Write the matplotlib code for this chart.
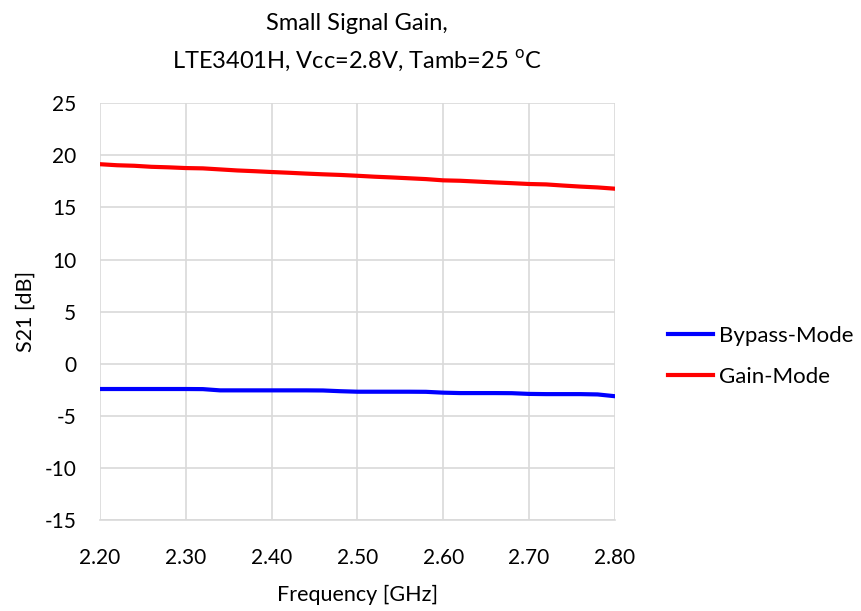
import matplotlib
matplotlib.use("Agg")
import matplotlib.pyplot as plt

FONT = ["Lato", "DejaVu Sans"]
plt.rcParams["font.family"] = FONT
plt.rcParams["axes.unicode_minus"] = False

freq_ghz = [2.20, 2.22, 2.24, 2.26, 2.28, 2.30, 2.32, 2.34, 2.36, 2.38,
            2.40, 2.42, 2.44, 2.46, 2.48, 2.50, 2.52, 2.54, 2.56, 2.58,
            2.60, 2.62, 2.64, 2.66, 2.68, 2.70, 2.72, 2.74, 2.76, 2.78, 2.80]

bypass_db = [-2.43, -2.43, -2.43, -2.43, -2.43, -2.43, -2.44, -2.56, -2.56, -2.56,
             -2.56, -2.56, -2.56, -2.57, -2.64, -2.69, -2.69, -2.69, -2.69, -2.70,
             -2.78, -2.82, -2.82, -2.82, -2.83, -2.90, -2.92, -2.92, -2.92, -2.95, -3.12]

gain_db = [19.15, 19.05, 19.00, 18.90, 18.85, 18.78, 18.75, 18.65, 18.55, 18.48,
           18.40, 18.33, 18.25, 18.18, 18.12, 18.04, 17.95, 17.88, 17.80, 17.72,
           17.60, 17.56, 17.48, 17.40, 17.33, 17.25, 17.21, 17.10, 17.00, 16.92, 16.80]

x_ticks = [2.20, 2.30, 2.40, 2.50, 2.60, 2.70, 2.80]
y_ticks = [-15, -10, -5, 0, 5, 10, 15, 20, 25]

fig = plt.figure(figsize=(8.61, 6.11), dpi=100)
ax = fig.add_axes([0.116, 0.149, 0.598, 0.682])

ax.plot(freq_ghz, bypass_db, color="#0000ff", linewidth=3, label="Bypass-Mode")
ax.plot(freq_ghz, gain_db, color="#ff0000", linewidth=3, label="Gain-Mode")

ax.set_xlim(2.20, 2.80)
ax.set_ylim(-15, 25)
ax.set_xticks(x_ticks)
ax.set_xticklabels([f"{v:.2f}" for v in x_ticks])
ax.set_yticks(y_ticks)
ax.tick_params(length=0, labelsize=15)
ax.tick_params(axis="x", pad=20)
ax.tick_params(axis="y", pad=17)
ax.grid(True, color="#d9d9d9", linewidth=1.2)
ax.set_axisbelow(True)
for s in ax.spines.values():
    s.set_visible(False)
ax.spines["bottom"].set_visible(True)
ax.spines["bottom"].set_color("#d9d9d9")
ax.spines["bottom"].set_linewidth(1.2)

ax.set_xlabel("Frequency [GHz]", fontsize=15.5, labelpad=12)
ax.set_ylabel("S21 [dB]", fontsize=15.5, labelpad=6)
ax.set_title("Small Signal Gain,\nLTE3401H, Vcc=2.8V, Tamb=25 $^{\\mathregular{o}}$C",
             fontsize=17, pad=25, linespacing=1.75)

fig.legend(loc="center left", bbox_to_anchor=(0.776, 0.4165), frameon=False,
           borderpad=0, borderaxespad=0,
           fontsize=16, handlelength=2.0, labelspacing=0.95, handletextpad=0.3)

fig.savefig("out.png", dpi=100)
